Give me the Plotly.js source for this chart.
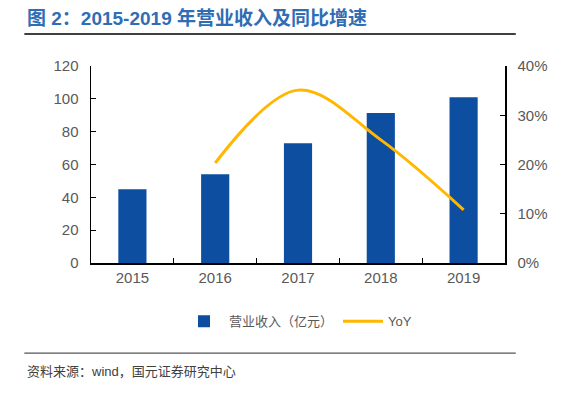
<!DOCTYPE html>
<html>
<head>
<meta charset="utf-8">
<script src="https://cdn.plot.ly/plotly-3.0.1.min.js"></script>
<style>html,body{margin:0;padding:0;background:#fff;}#chart{width:583px;height:396px;}</style>
</head>
<body>
<div id="chart"></div>
<script>
var years = ['2015', '2016', '2017', '2018', '2019'];
var revenue = [45, 54, 73, 91.3, 101];
var yoyYears = ['2016', '2017', '2018', '2019'];
var yoy = [0.203, 0.351, 0.25, 0.108];
var leftTicks = [0, 20, 40, 60, 80, 100, 120];
var rightTicks = [0, 0.1, 0.2, 0.3, 0.4];
var rightTickText = ['0%', '10%', '20%', '30%', '40%'];

var font = '"Liberation Sans", Arial, "Noto Sans CJK SC", sans-serif';
var cjk = '"Liberation Sans", "Noto Sans CJK SC", sans-serif';

var data = [
  {
    type: 'bar', x: years, y: revenue, name: '营业收入（亿元）',
    marker: {color: '#0D4EA0'}, width: 0.34
  },
  {
    type: 'scatter', mode: 'lines', x: yoyYears, y: yoy, name: 'YoY', yaxis: 'y2',
    line: {color: '#FFB700', width: 3, shape: 'spline', smoothing: 1}
  }
];

var layout = {
  width: 583, height: 396,
  margin: {l: 91, r: 78, t: 66, b: 133},
  paper_bgcolor: '#fff', plot_bgcolor: '#fff',
  font: {family: font, size: 15, color: '#595959'},
  showlegend: true,
  xaxis: {
    type: 'category', tickson: 'boundaries', ticks: 'inside', ticklen: 5, tickcolor: '#000',
    showline: true, linecolor: '#000', linewidth: 1.5, showgrid: false, zeroline: false,
    tickfont: {size: 15, color: '#595959'}, range: [-0.5, 4.5]
  },
  yaxis: {
    range: [0, 120], tickvals: leftTicks, ticks: 'inside', ticklen: 5, tickcolor: '#000',
    showline: true, linecolor: '#000', linewidth: 1.5, showgrid: false, zeroline: false,
    tickfont: {size: 15, color: '#595959'}, ticklabelstandoff: 8
  },
  yaxis2: {
    overlaying: 'y', side: 'right', range: [0, 0.4], tickvals: rightTicks, ticktext: rightTickText,
    ticks: 'inside', ticklen: 5, tickcolor: '#000',
    showline: true, linecolor: '#000', linewidth: 1.5, showgrid: false, zeroline: false,
    tickfont: {size: 15, color: '#595959'}, ticklabelstandoff: 8
  },
  legend: {
    orientation: 'h', x: 0.5, xanchor: 'center', y: -0.22, yanchor: 'top',
    font: {family: cjk, size: 13, color: '#595959'}, itemwidth: 40, traceorder: 'normal'
  },
  annotations: [
    {
      xref: 'paper', yref: 'paper', x: -0.159, y: 1.244, xanchor: 'left', yanchor: 'middle',
      text: '<b>图 2：2015-2019 年营业收入及同比增速</b>', showarrow: false,
      font: {family: cjk, size: 19, color: '#2F6DB5'}
    },
    {
      xref: 'paper', yref: 'paper', x: -0.159, y: -0.553, xanchor: 'left', yanchor: 'middle',
      text: '资料来源：wind，国元证券研究中心', showarrow: false,
      font: {family: cjk, size: 13, color: '#404040'}
    }
  ],
  shapes: [
    {type: 'line', xref: 'paper', yref: 'paper', x0: -0.161, x1: 1.026, y0: 1.162, y1: 1.162,
     line: {color: '#000', width: 1.5}},
    {type: 'line', xref: 'paper', yref: 'paper', x0: -0.161, x1: 1.026, y0: -0.457, y1: -0.457,
     line: {color: '#555', width: 1.2}}
  ]
};

Plotly.newPlot('chart', data, layout, {displayModeBar: false, staticPlot: true});
</script>
</body>
</html>
